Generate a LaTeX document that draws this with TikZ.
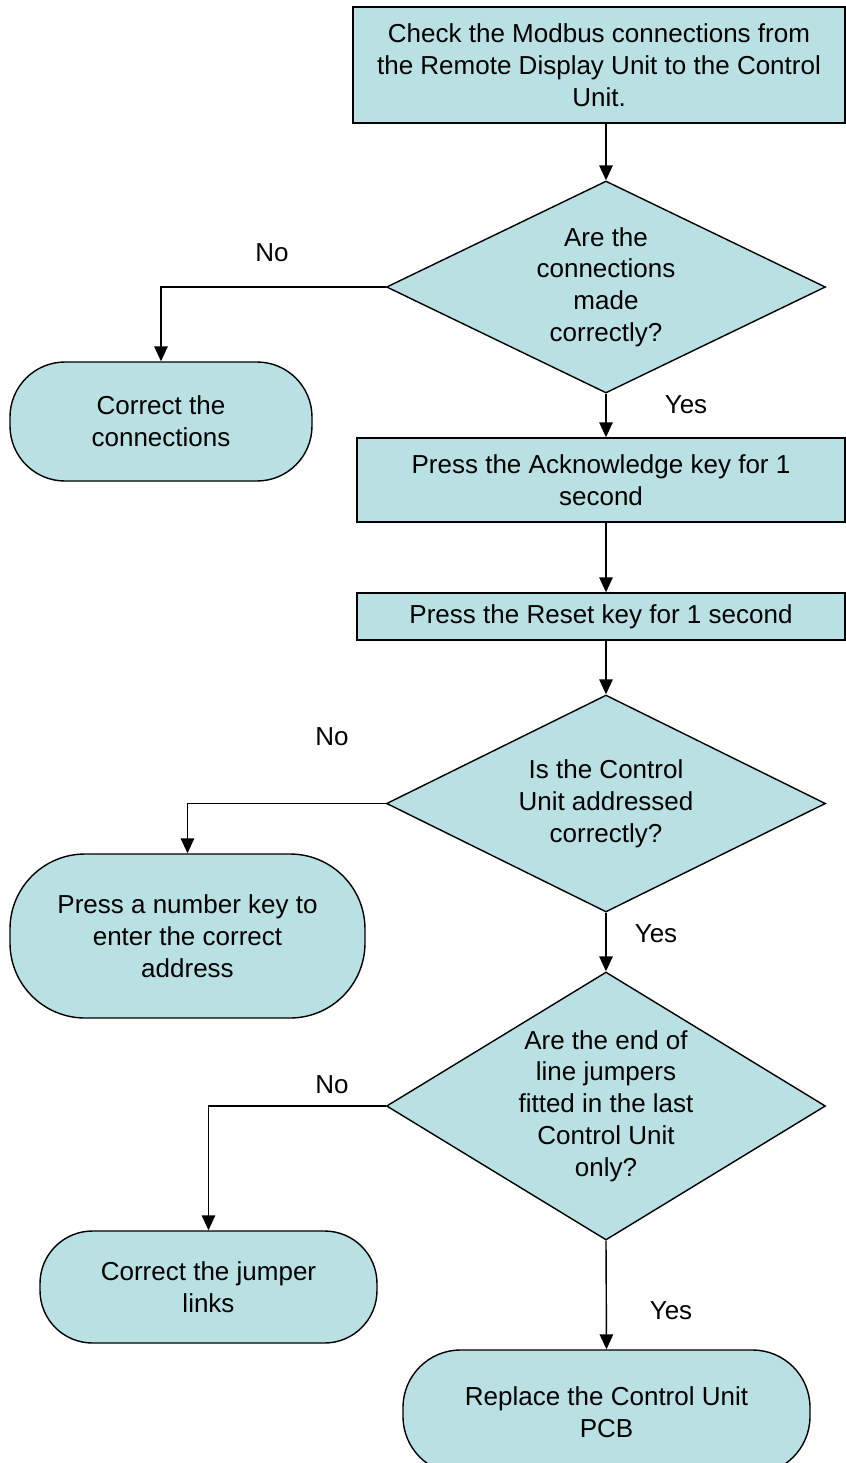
\documentclass[tikz,border=0pt]{standalone}
\usepackage{fontspec}
\setmainfont{Liberation Sans}
\usetikzlibrary{arrows.meta,shapes.geometric}
\definecolor{boxfill}{RGB}{185,224,227}
\tikzset{
    chart/.style     = {>={Triangle[length=0.3cm, width=0.27cm]},
                        font=\fontsize{14.8}{18.1}\selectfont},
    line/.style      = {line width=0.8pt},
    process/.style   = {draw, line width=0.8pt, fill=boxfill, align=center,
                        inner sep=0pt},
    decision/.style  = {draw, line width=0.8pt, fill=boxfill, diamond,
                        align=center, inner sep=-1cm},
    terminal/.style  = {draw, line width=0.8pt, fill=boxfill, align=center,
                        inner sep=0pt},
    answer/.style    = {inner sep=0pt}
}
\begin{document}
\begin{tikzpicture}[chart]
\useasboundingbox (0,0) rectangle (16.92,-29.26);

% ================= Main column =================
\node[process, minimum width=9.84cm, minimum height=2.32cm] (check) at (11.98,-1.30)
    {Check the Modbus connections from\\the Remote Display Unit to the Control\\Unit.};
\node[decision, minimum width=8.78cm, minimum height=4.24cm] (conn) at (12.12,-5.74)
    {Are the\\connections\\made\\correctly?};
\node[process, minimum width=9.76cm, minimum height=1.68cm] (ack) at (12.02,-9.60)
    {Press the Acknowledge key for 1\\second};
\node[process, minimum width=9.76cm, minimum height=0.94cm] (reset) at (12.02,-12.33)
    {Press the Reset key for 1 second};
\node[decision, minimum width=8.78cm, minimum height=4.34cm] (addr) at (12.12,-16.07)
    {Is the Control\\Unit addressed\\correctly?};
\node[decision, minimum width=8.78cm, minimum height=5.36cm] (jump) at (12.12,-22.12)
    {Are the end of\\line jumpers\\fitted in the last\\Control Unit\\only?};
\node[terminal, minimum width=8.14cm, minimum height=2.48cm, rounded corners=1.15cm]
    (pcb) at (12.13,-28.24) {Replace the Control Unit\\PCB};

% ================= Side branches =================
\node[terminal, minimum width=6.04cm, minimum height=2.38cm, rounded corners=1.1cm]
    (fixconn) at (3.22,-8.43) {Correct the\\connections};
\node[terminal, minimum width=7.10cm, minimum height=3.28cm, rounded corners=1.5cm]
    (number) at (3.75,-18.72) {Press a number key to\\enter the correct\\address};
\node[terminal, minimum width=6.74cm, minimum height=2.24cm, rounded corners=1.05cm]
    (fixjump) at (4.17,-25.74) {Correct the jumper\\links};

% ================= Connectors =================
\draw[->, line] (check.south -| conn.north) -- (conn.north);
\draw[->, line] (conn.south) -- (conn.south |- ack.north);
\draw[->, line] (conn.south |- ack.south) -- (conn.south |- reset.north);
\draw[->, line] (addr.north |- reset.south) -- (addr.north);
\draw[->, line] (addr.south) -- (jump.north);
\draw[->, line] (jump.south) -- (pcb.north);

\draw[->, line] (conn.west) -| (fixconn.north);
\draw[->, line] (addr.west) -| (number.north);
\draw[->, line] (jump.west) -| (fixjump.north);

% ================= Answers =================
\node[answer] (no1)  at (5.44,-5.06)  {No};
\node[answer] (yes1) at (13.72,-8.10) {Yes};
\node[answer] (no2)  at (6.64,-14.74) {No};
\node[answer] (yes2) at (13.12,-18.68) {Yes};
\node[answer] (no3)  at (6.64,-21.70) {No};
\node[answer] (yes3) at (13.42,-26.22) {Yes};

\end{tikzpicture}
\end{document}
